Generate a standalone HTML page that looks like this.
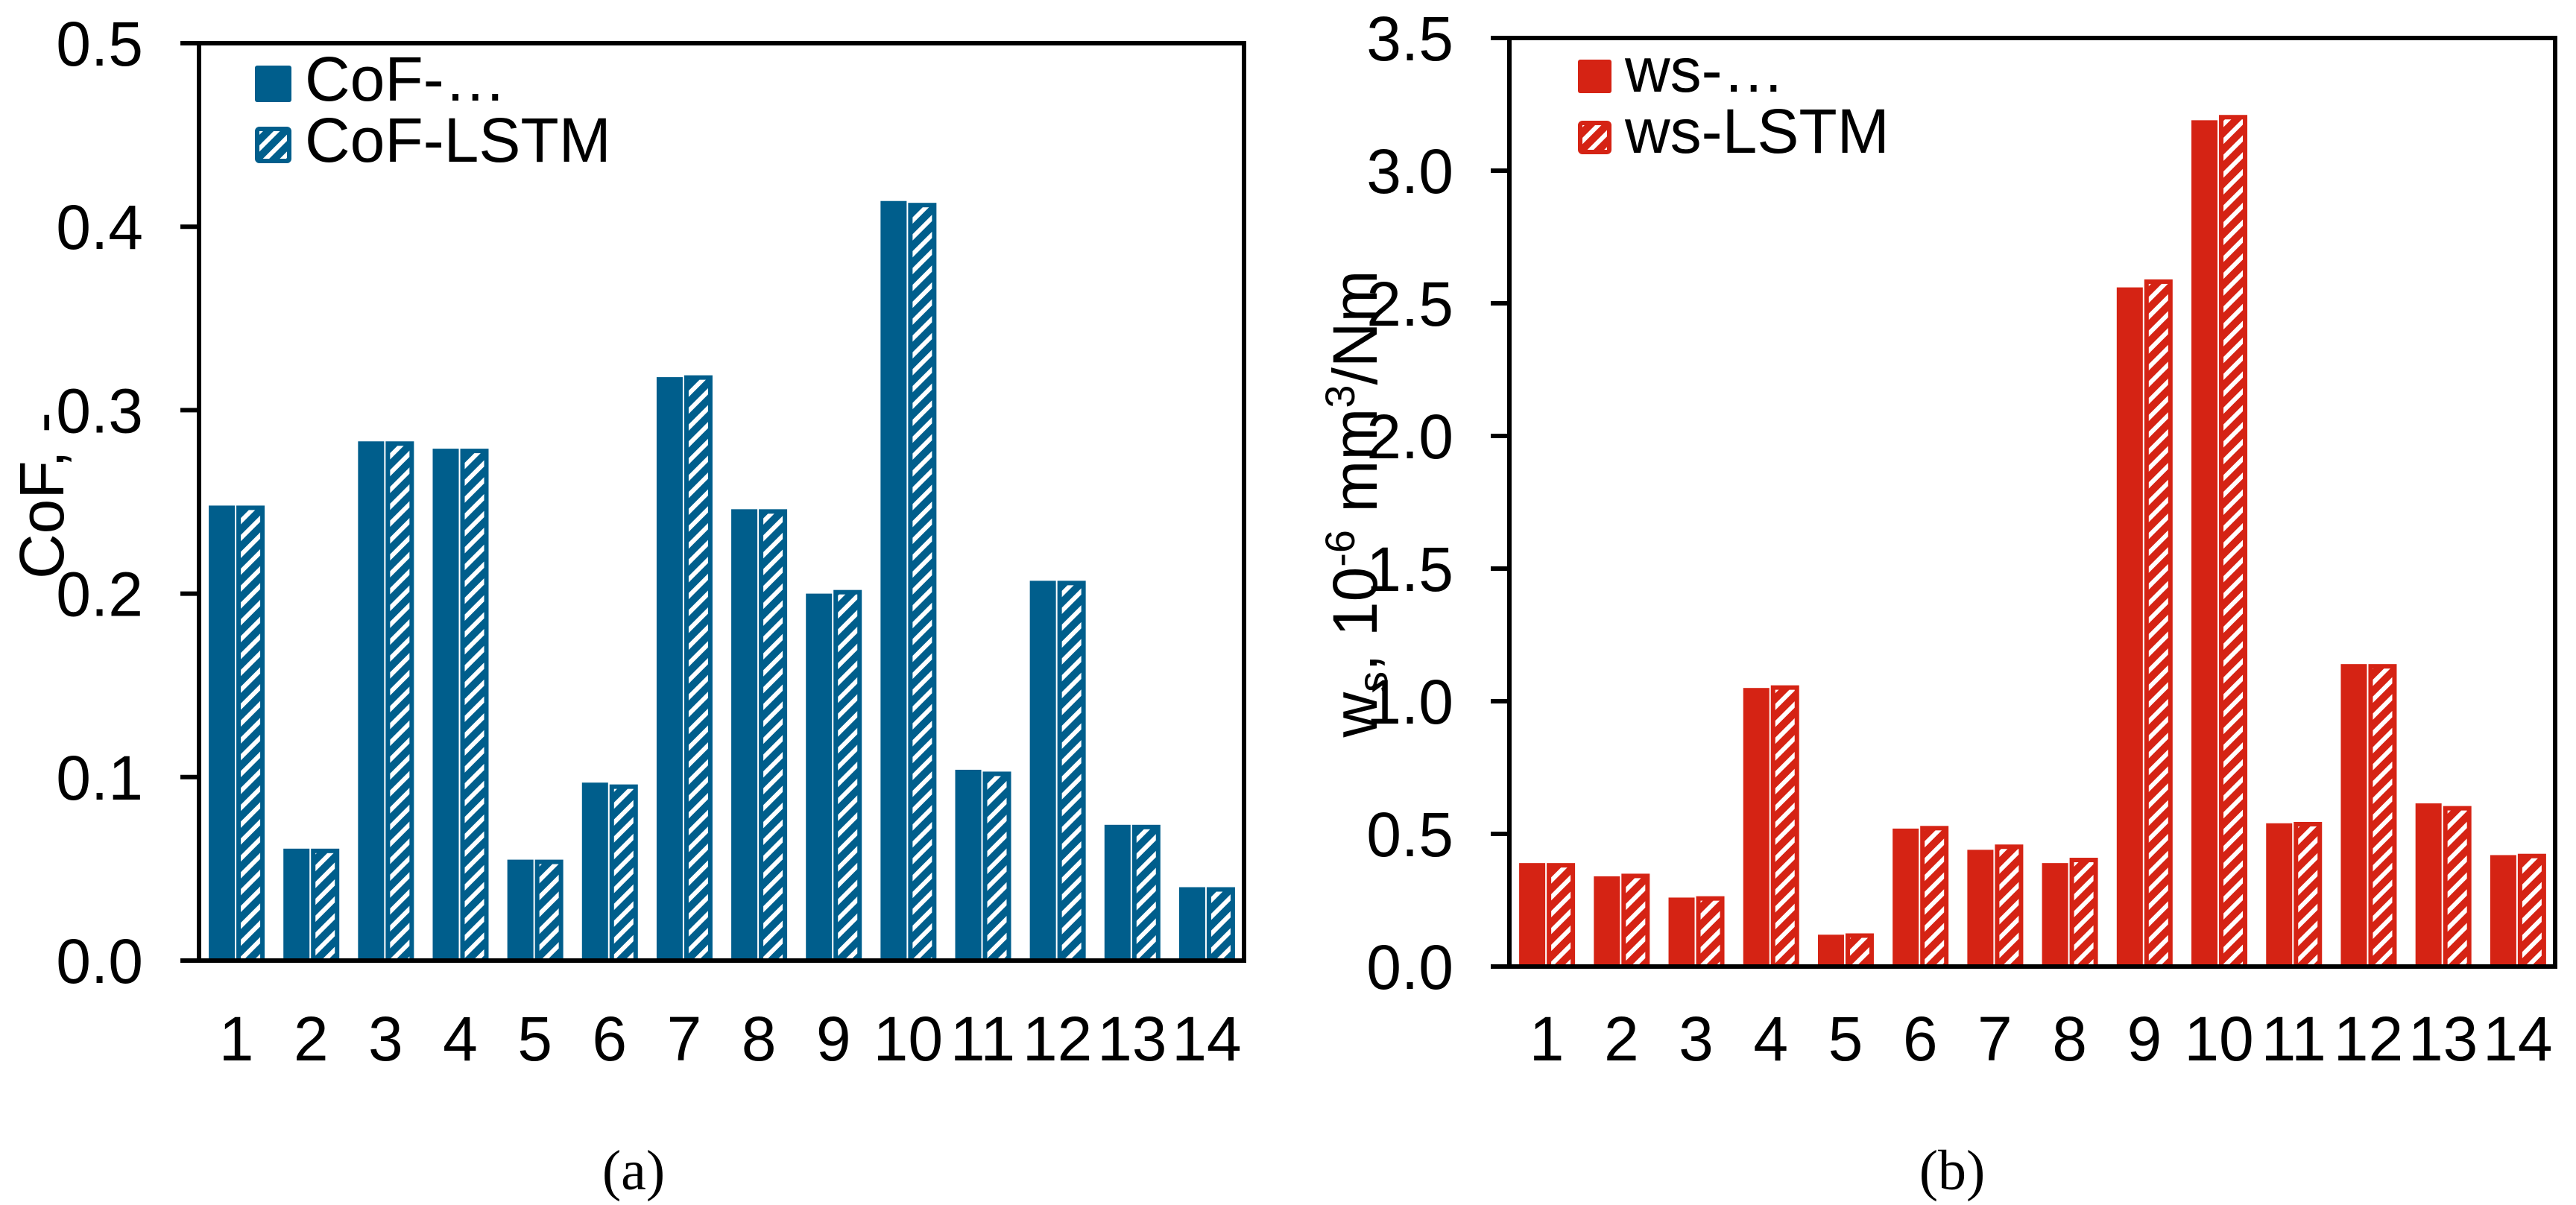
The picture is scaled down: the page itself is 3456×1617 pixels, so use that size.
<!DOCTYPE html>
<html><head><meta charset="utf-8"><style>
html,body{margin:0;padding:0;background:#fff;}
svg{display:block;font-family:"Liberation Sans",Arial,sans-serif;}
</style></head><body>
<svg id="fig" width="3456" height="1617" viewBox="0 0 3456 1617" xmlns="http://www.w3.org/2000/svg">
<defs>
<pattern id="hb" width="16" height="16" patternUnits="userSpaceOnUse" patternTransform="rotate(45)"><rect width="16" height="16" fill="#005E8C"/><rect x="0" y="0" width="6" height="16" fill="#fff"/></pattern>
<pattern id="hr" width="16" height="16" patternUnits="userSpaceOnUse" patternTransform="rotate(45)"><rect width="16" height="16" fill="#D52314"/><rect x="0" y="0" width="6" height="16" fill="#fff"/></pattern>
</defs>
<g id="ga"></g>
<g id="gb"></g>
<text x="850" y="1596" font-family="Liberation Serif, serif" font-size="76" text-anchor="middle">(a)</text>
<text x="2619" y="1596" font-family="Liberation Serif, serif" font-size="76" text-anchor="middle">(b)</text>
</svg>
<script>
const categories = ["1","2","3","4","5","6","7","8","9","10","11","12","13","14"];
const cofMeasured = [0.248,0.061,0.283,0.279,0.055,0.097,0.318,0.246,0.200,0.414,0.104,0.207,0.074,0.040];
const cofLSTM = [0.248,0.061,0.283,0.279,0.055,0.096,0.319,0.246,0.202,0.413,0.103,0.207,0.074,0.040];
const cofTicks = ["0.0","0.1","0.2","0.3","0.4","0.5"];
const wsMeasured = [0.39,0.34,0.26,1.05,0.12,0.52,0.44,0.39,2.56,3.19,0.54,1.14,0.615,0.42];
const wsLSTM = [0.39,0.35,0.265,1.06,0.125,0.53,0.46,0.41,2.59,3.21,0.545,1.14,0.605,0.425];
const wsTicks = ["0.0","0.5","1.0","1.5","2.0","2.5","3.0","3.5"];

const NS="http://www.w3.org/2000/svg";
function mk(parent,tag,attrs){const e=document.createElementNS(NS,tag);for(const k in attrs)e.setAttribute(k,attrs[k]);parent.appendChild(e);return e;}

function drawChart(g,cfg){
  const {x0,x1,yTop,yBot,max,ticks,s1,s2,color,hatch,pfx}=cfg;
  const yS=v=>yBot-(v/max)*(yBot-yTop);
  const band=(x1-x0)/categories.length;
  const xC=i=>x0+band*(i+0.5);
  for(let i=0;i<categories.length;i++){
    const c=xC(i);
    const b1=mk(g,'rect',{x:c-37,y:yS(s1[i]),width:35,height:yBot-yS(s1[i]),fill:color});
    
    
    const b2=mk(g,'rect',{x:c+3,y:yS(s2[i])+3,width:32,height:Math.max(0,yBot-yS(s2[i])-3),fill:'url(#'+hatch+')',stroke:color,'stroke-width':6});
    
    
    const t=mk(g,'text',{x:c,y:1423,'font-size':84,'text-anchor':'middle'});
    t.textContent=categories[i];
    
    
  }
  const fr=mk(g,'path',{d:`M${x0-25} ${yTop} H${x1} V${yBot} H${x0-25} M${x0} ${yTop} V${yBot}`,fill:'none',stroke:'#000','stroke-width':6});
  
  
  ticks.forEach((lab,k)=>{
    const v=parseFloat(lab);const y=yS(v);
    const tk=mk(g,'line',{x1:x0-25,x2:x0,y1:y,y2:y,stroke:'#000','stroke-width':6});
    
    
    const t=mk(g,'text',{x:x0-75,y:y+30,'font-size':84,'text-anchor':'end'});
    t.textContent=lab;
    
    
  });
}
const ga=document.getElementById('ga'), gb=document.getElementById('gb');
drawChart(ga,{x0:267,x1:1669,yTop:58,yBot:1289,max:0.5,ticks:cofTicks,s1:cofMeasured,s2:cofLSTM,color:'#005E8C',hatch:'hb',pfx:'a'});
drawChart(gb,{x0:2025,x1:3428,yTop:51,yBot:1297,max:3.5,ticks:wsTicks,s1:wsMeasured,s2:wsLSTM,color:'#D52314',hatch:'hr',pfx:'b'});

function legend(g,x,y,sw,color,hatch,l1,l2,pfx){
  const a=mk(g,'rect',{x:x,y:y,width:sw,height:sw,rx:3,fill:color});
  
  
  const t1=mk(g,'text',{x:x+sw+18,y:y+sw-2,'font-size':84});t1.textContent=l1;
  
  
  const b=mk(g,'rect',{x:x+3,y:y+82+3,width:sw-6,height:sw-6,rx:3,fill:'url(#'+hatch+')',stroke:color,'stroke-width':6});
  
  
  const t2=mk(g,'text',{x:x+sw+18,y:y+82+sw-2,'font-size':84});t2.textContent=l2;
  
  
}
legend(ga,342,88,49,'#005E8C','hb','CoF-…','CoF-LSTM','a');
legend(gb,2117,80,45,'#D52314','hr','ws-…','ws-LSTM','b');

const ta=mk(ga,'text',{x:0,y:0,'font-size':84,'text-anchor':'middle',transform:'translate(85,665) rotate(-90)'});
ta.textContent='CoF, -';


const tb=mk(gb,'text',{x:0,y:0,'font-size':84,'text-anchor':'middle',transform:'translate(1847,676) rotate(-90)'});
tb.innerHTML='w<tspan font-size="56" dy="14">s</tspan><tspan dy="-14">,  10</tspan><tspan font-size="56" dy="-30">-6</tspan><tspan dy="30"> mm</tspan><tspan font-size="56" dy="-30">3</tspan><tspan dy="30">/Nm</tspan>';


</script>
</body></html>
